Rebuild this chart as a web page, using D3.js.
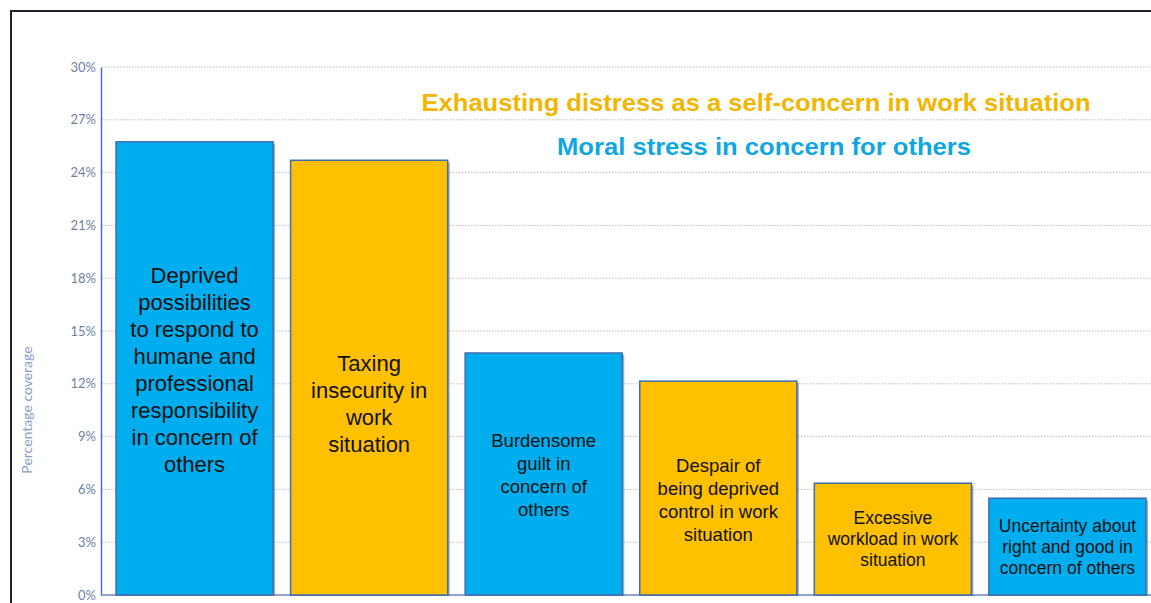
<!DOCTYPE html>
<html>
<head>
<meta charset="utf-8">
<script src="https://cdn.jsdelivr.net/npm/d3@7"></script>
<style>
  html, body { margin: 0; padding: 0; background: #ffffff; }
  svg { display: block; }
</style>
</head>
<body>
<svg id="chart" width="1151" height="603"></svg>
<script>
// ---- data ----
const categories = [
  "Deprived possibilities to respond to humane and professional responsibility in concern of others",
  "Taxing insecurity in work situation",
  "Burdensome guilt in concern of others",
  "Despair of being deprived control in work situation",
  "Excessive workload in work situation",
  "Uncertainty about right and good in concern of others"
];
const labelLines = [
  ["Deprived", "possibilities", "to respond to", "humane and", "professional", "responsibility", "in concern of", "others"],
  ["Taxing", "insecurity in", "work", "situation"],
  ["Burdensome", "guilt in", "concern of", "others"],
  ["Despair of", "being deprived", "control in work", "situation"],
  ["Excessive", "workload in work", "situation"],
  ["Uncertainty about", "right and good in", "concern of others"]
];
const values = [25.75, 24.7, 13.75, 12.15, 6.35, 5.5];
const groups = ["moral", "exhaust", "moral", "exhaust", "exhaust", "moral"];
const legendLabels = {
  exhaust: "Exhausting distress as a self-concern in work situation",
  moral: "Moral stress in concern for others"
};
const tickValues = [0, 3, 6, 9, 12, 15, 18, 21, 24, 27, 30];
const yTitle = "Percentage coverage";

// ---- drawing ----
const svg = d3.select("#chart");
const colors = { moral: "#00aeef", exhaust: "#ffc000" };
const legendColors = { moral: "#0fa6e2", exhaust: "#f2b500" };

// frame
svg.append("path")
  .attr("d", "M11,603 L11,11 L1151,11")
  .attr("fill", "none")
  .attr("stroke", "#1c2233")
  .attr("stroke-width", 2);

const y = d3.scaleLinear().domain([0, 30]).range([595, 67]);
const x = d3.scaleBand().domain(d3.range(categories.length))
  .range([116, 1146]).paddingInner(0.1).paddingOuter(0);

// gridlines
svg.append("g").selectAll("line").data(tickValues.filter(d => d > 0)).join("line")
  .attr("x1", 102).attr("x2", 1151)
  .attr("y1", d => y(d)).attr("y2", d => y(d))
  .attr("stroke", "#b8bcc4").attr("stroke-width", 1)
  .attr("stroke-dasharray", "1.5,1.5");

// y axis
const yAxis = svg.append("g").attr("transform", "translate(101,0)")
  .call(d3.axisLeft(y).tickValues(tickValues).tickFormat(d => d + "%").tickSize(0).tickPadding(5));
yAxis.select(".domain").attr("stroke", "#4b6fb8").attr("stroke-width", 1.5);
yAxis.selectAll("text")
  .attr("fill", "#6e7fa3")
  .style("font-family", "Lato, 'Open Sans', sans-serif")
  .style("font-size", "13px");

// bottom line
svg.append("line")
  .attr("x1", 101).attr("x2", 1151)
  .attr("y1", y(0)).attr("y2", y(0))
  .attr("stroke", "#6b86bf").attr("stroke-width", 1.5);

// y title
svg.append("text")
  .attr("transform", `translate(32,${410}) rotate(-90)`)
  .attr("text-anchor", "middle")
  .attr("fill", "#8a9bc9")
  .style("font-family", "Lato, 'Open Sans', sans-serif")
  .style("font-size", "14px")
  .text(yTitle);

// bar shadows
svg.append("g").selectAll("rect").data(values).join("rect")
  .attr("x", (d, i) => x(i) + 2)
  .attr("y", d => y(d) + 2)
  .attr("width", x.bandwidth())
  .attr("height", d => y(0) - y(d) - 1)
  .attr("fill", "#5a6a88").attr("opacity", 0.55);

// bars
svg.append("g").selectAll("rect").data(values).join("rect")
  .attr("x", (d, i) => x(i))
  .attr("y", d => y(d))
  .attr("width", x.bandwidth())
  .attr("height", d => y(0) - y(d))
  .attr("fill", (d, i) => colors[groups[i]])
  .attr("stroke", "#3d6db0").attr("stroke-width", 1.5);

// bar labels
const fontSizes = [22, 22, 18.5, 18.5, 17.5, 17.5];
const lineHeights = [27, 27, 23, 23, 21, 21];
const firstLineY = [275, 363, 441, 466, 518, 526];
labelLines.forEach((lines, i) => {
  const t = svg.append("text")
    .attr("text-anchor", "middle")
    .attr("fill", "#111111")
    .style("font-family", "'Liberation Sans', Arial, sans-serif")
    .style("font-size", fontSizes[i] + "px");
  lines.forEach((ln, j) => {
    t.append("tspan")
      .attr("x", x(i) + x.bandwidth() / 2)
      .attr("y", firstLineY[i] + j * lineHeights[i])
      .attr("dy", "0.35em")
      .text(ln);
  });
});

// legend texts
svg.append("text")
  .attr("x", 756).attr("y", 111)
  .attr("text-anchor", "middle")
  .attr("fill", legendColors.exhaust)
  .attr("textLength", 669).attr("lengthAdjust", "spacingAndGlyphs")
  .style("font-family", "'Liberation Sans', Arial, sans-serif")
  .style("font-weight", "bold")
  .style("font-size", "24px")
  .text(legendLabels.exhaust);
svg.append("text")
  .attr("x", 764).attr("y", 155)
  .attr("text-anchor", "middle")
  .attr("fill", legendColors.moral)
  .attr("textLength", 414).attr("lengthAdjust", "spacingAndGlyphs")
  .style("font-family", "'Liberation Sans', Arial, sans-serif")
  .style("font-weight", "bold")
  .style("font-size", "24px")
  .text(legendLabels.moral);
</script>
</body>
</html>
